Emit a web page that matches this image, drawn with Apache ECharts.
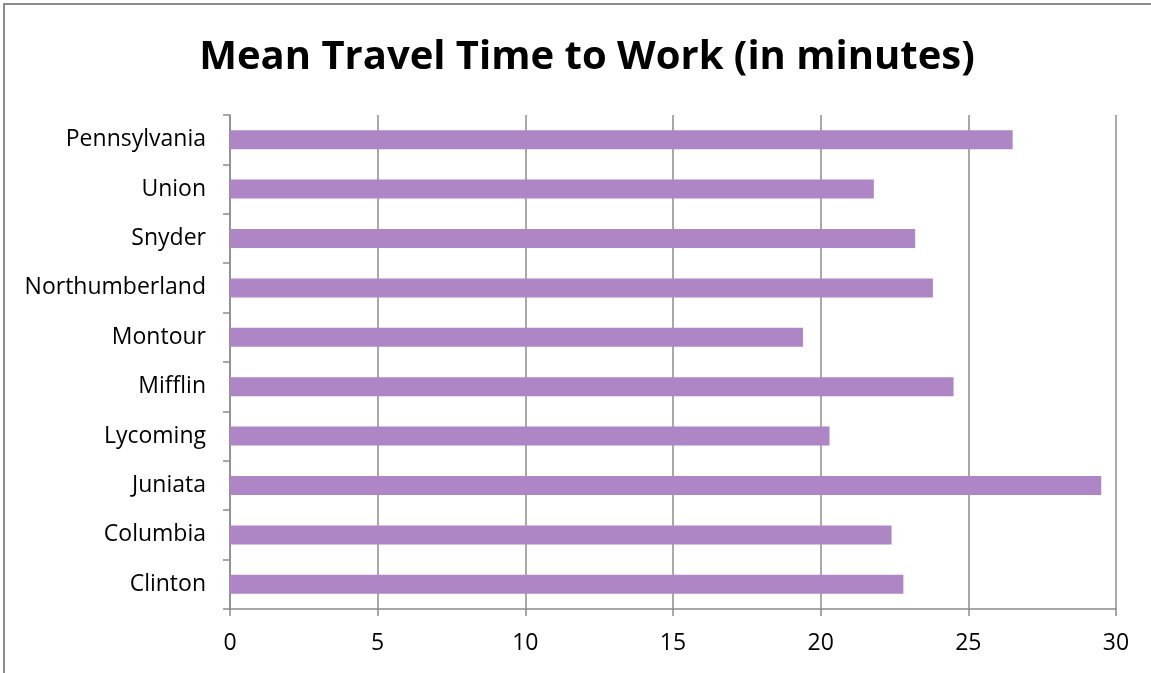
<!DOCTYPE html>
<html><head><meta charset="utf-8">
<script src="https://cdn.jsdelivr.net/npm/echarts@6/dist/echarts.min.js"></script>
<style>
html,body{margin:0;padding:0;background:#fff;}
#frame{position:absolute;left:3px;top:3px;width:1160px;height:680px;border:2px solid #8c8c8c;box-sizing:border-box;}
#chart{position:absolute;left:0;top:0;width:1151px;height:673px;}
</style></head>
<body><div id="frame"></div><div id="chart"></div>
<script>
const categories = ['Clinton','Columbia','Juniata','Lycoming','Mifflin','Montour','Northumberland','Snyder','Union','Pennsylvania'];
const values = [22.8, 22.4, 29.5, 20.3, 24.5, 19.4, 23.8, 23.2, 21.8, 26.5];
const xTicks = [0, 5, 10, 15, 20, 25, 30];
const titleText = 'Mean Travel Time to Work (in minutes)';

const chart = echarts.init(document.getElementById('chart'));
const font = '"Open Sans", sans-serif';
chart.setOption({
  animation: false,
  title: {text: titleText, left: 582, top: 33, textAlign: 'center',
    textStyle: {fontFamily: font, fontSize: 40, fontWeight: 'bold', color: '#000'}},
  grid: {left: 230, right: 1151-1116, top: 115, bottom: 673-609, containLabel: false},
  xAxis: {type: 'value', min: xTicks[0], max: xTicks[xTicks.length-1], interval: 5,
    axisLine: {show: true, lineStyle: {color: '#8c8c8c', width: 1.5}},
    axisTick: {show: true, length: 7, lineStyle: {color: '#8c8c8c', width: 1.5}},
    splitLine: {show: true, lineStyle: {color: '#8c8c8c', width: 1.5}},
    axisLabel: {fontFamily: font, fontSize: 23, color: '#000', margin: 23}},
  yAxis: {type: 'category', data: categories,
    axisLine: {show: true, lineStyle: {color: '#8c8c8c', width: 1.5}},
    axisTick: {show: true, length: 7, alignWithLabel: false, lineStyle: {color: '#8c8c8c', width: 1.5}},
    axisLabel: {fontFamily: font, fontSize: 23, color: '#000', margin: 24}},
  series: [{type: 'bar', data: values, barWidth: 19,
    itemStyle: {color: '#ae86c6'}}]
});
</script></body></html>
